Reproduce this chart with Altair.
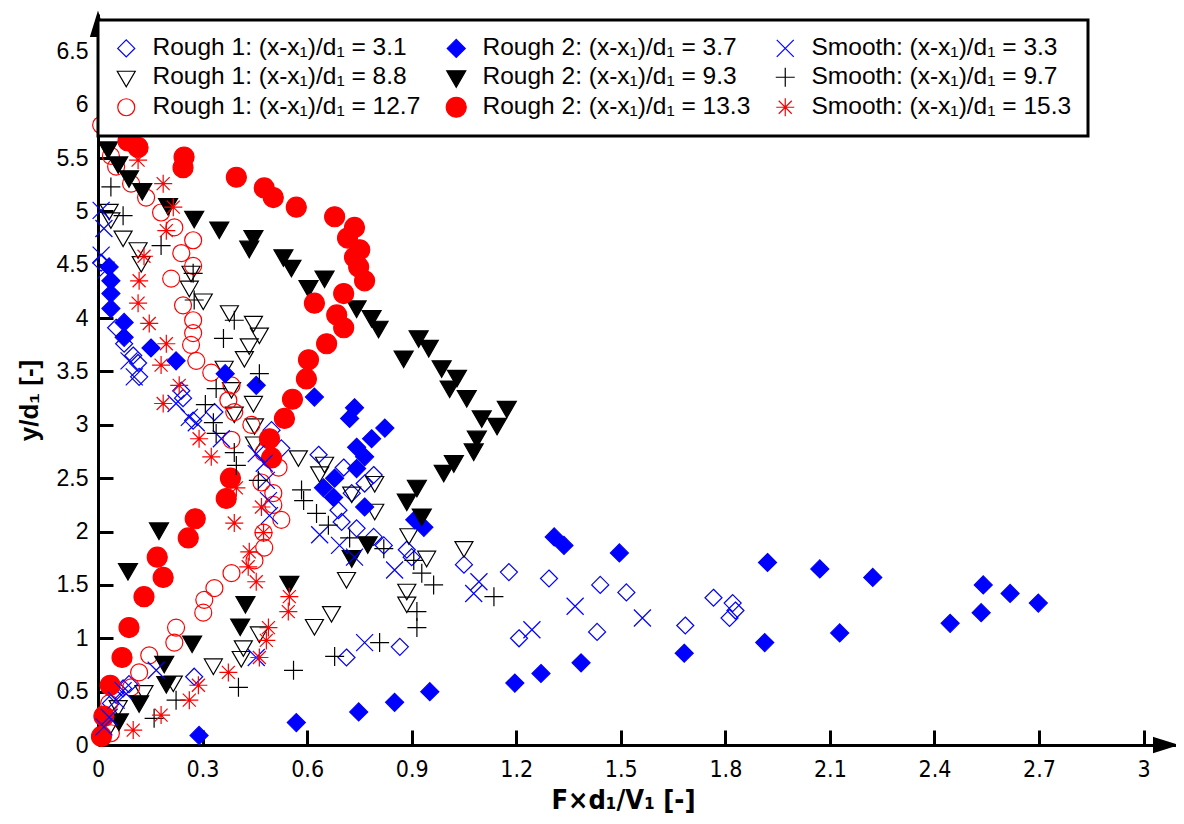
import altair as alt
import pandas as pd

# ---------------- data ----------------
series = [
    "Rough 1: (x-x₁)/d₁ = 3.1",
    "Rough 1: (x-x₁)/d₁ = 8.8",
    "Rough 1: (x-x₁)/d₁ = 12.7",
    "Rough 2: (x-x₁)/d₁ = 3.7",
    "Rough 2: (x-x₁)/d₁ = 9.3",
    "Rough 2: (x-x₁)/d₁ = 13.3",
    "Smooth: (x-x₁)/d₁ = 3.3",
    "Smooth: (x-x₁)/d₁ = 9.7",
    "Smooth: (x-x₁)/d₁ = 15.3",
]

r1_31_x = [0.023, 0.037, 0.052, 0.072, 0.089, 0.276, 0.713, 0.866, 1.208, 1.432, 1.685, 1.812, 1.829, 1.821,
           1.766, 1.516, 1.441, 1.294, 1.179, 1.050, 0.900, 0.886, 0.820, 0.791, 0.742, 0.699, 0.690, 0.728,
           0.765, 0.791, 0.705, 0.633, 0.526, 0.498, 0.334, 0.273, 0.244, 0.239, 0.118, 0.115, 0.101, 0.075,
           0.052, 0.009]
r1_31_y = [0.28, 0.39, 0.47, 0.53, 0.57, 0.64, 0.82, 0.92, 1.00, 1.06, 1.12, 1.19, 1.26, 1.33,
           1.38, 1.43, 1.50, 1.56, 1.62, 1.69, 1.76, 1.83, 1.87, 1.95, 2.03, 2.09, 2.20, 2.36,
           2.45, 2.53, 2.60, 2.72, 2.78, 2.95, 3.12, 3.04, 3.25, 3.32, 3.45, 3.58, 3.65, 3.76,
           3.91, 4.52]

r1_88_x = [0.032, 0.058, 0.132, 0.216, 0.331, 0.411, 0.417, 0.463, 0.621, 0.670, 0.713, 0.886, 0.886, 0.943,
           1.050, 0.892, 0.794, 0.728, 0.794, 0.636, 0.650, 0.575, 0.449, 0.449, 0.391, 0.446, 0.383, 0.362,
           0.420, 0.434, 0.463, 0.446, 0.377, 0.302, 0.262, 0.267, 0.124, 0.115, 0.072, 0.037, 0.032]
r1_88_y = [0.17, 0.36, 0.50, 0.59, 0.75, 0.82, 0.92, 1.05, 1.12, 1.24, 1.56, 1.33, 1.45, 1.76,
           1.85, 1.97, 2.20, 2.36, 2.46, 2.55, 2.64, 2.70, 2.83, 3.00, 3.11, 3.21, 3.34, 3.54,
           3.63, 3.75, 3.85, 3.96, 4.06, 4.17, 4.29, 4.43, 4.52, 4.65, 4.76, 4.93, 5.01]

r1_127_x = [0.037, 0.032, 0.095, 0.118, 0.147, 0.219, 0.224, 0.302, 0.305, 0.334, 0.383, 0.449, 0.477, 0.475,
            0.526, 0.503, 0.503, 0.469, 0.518, 0.475, 0.383, 0.440, 0.391, 0.374, 0.383, 0.325, 0.282, 0.267,
            0.273, 0.273, 0.244, 0.210, 0.273, 0.239, 0.273, 0.219, 0.181, 0.138, 0.095, 0.052, 0.037, 0.009]
r1_127_y = [0.11, 0.39, 0.54, 0.68, 0.84, 0.96, 1.10, 1.24, 1.36, 1.47, 1.61, 1.73, 1.85, 1.99,
            2.11, 2.25, 2.36, 2.46, 2.60, 2.74, 2.86, 3.00, 3.12, 3.23, 3.37, 3.49, 3.60, 3.75,
            3.86, 3.98, 4.12, 4.37, 4.49, 4.61, 4.73, 4.85, 4.99, 5.13, 5.26, 5.42, 5.52, 5.81]

r2_37_x = [0.290, 0.569, 0.748, 0.851, 0.952, 1.196, 1.271, 1.386, 1.682, 1.913, 2.128, 2.445, 2.534, 2.698,
           2.617, 2.540, 2.223, 2.071, 1.921, 1.496, 1.337, 1.309, 0.935, 0.909, 0.765, 0.676, 0.647, 0.679,
           0.742, 0.765, 0.742, 0.785, 0.823, 0.722, 0.736, 0.621, 0.454, 0.365, 0.224, 0.152, 0.075, 0.075,
           0.037, 0.037, 0.037, 0.032]
r2_37_y = [0.09, 0.21, 0.31, 0.40, 0.50, 0.58, 0.67, 0.77, 0.86, 0.96, 1.05, 1.14, 1.24, 1.33,
           1.42, 1.50, 1.57, 1.65, 1.71, 1.80, 1.87, 1.95, 2.04, 2.11, 2.23, 2.32, 2.41, 2.50,
           2.59, 2.70, 2.79, 2.87, 2.97, 3.06, 3.16, 3.26, 3.37, 3.48, 3.60, 3.72, 3.82, 3.96,
           4.09, 4.23, 4.35, 4.48]

r2_93_x = [0.060, 0.118, 0.196, 0.190, 0.270, 0.408, 0.423, 0.549, 0.086, 0.175, 0.728, 0.774, 0.929, 0.886,
           0.915, 0.992, 1.021, 1.078, 1.087, 1.145, 1.101, 1.173, 1.058, 1.009, 1.030, 0.986, 0.877, 0.949,
           0.920, 0.805, 0.785, 0.742, 0.650, 0.604, 0.555, 0.532, 0.434, 0.446, 0.348, 0.276, 0.201, 0.127,
           0.089, 0.058, 0.029]
r2_93_y = [0.23, 0.40, 0.58, 0.77, 0.96, 1.12, 1.33, 1.52, 1.64, 2.02, 1.76, 1.89, 2.15, 2.29,
           2.42, 2.56, 2.65, 2.76, 2.88, 3.00, 3.07, 3.16, 3.26, 3.35, 3.45, 3.54, 3.63, 3.73,
           3.82, 3.91, 4.01, 4.10, 4.38, 4.29, 4.48, 4.58, 4.66, 4.76, 4.84, 4.94, 5.06, 5.20,
           5.32, 5.45, 5.59]

r2_133_x = [0.010, 0.017, 0.035, 0.069, 0.089, 0.132, 0.187, 0.170, 0.259, 0.279, 0.368, 0.380, 0.498, 0.492,
            0.535, 0.558, 0.598, 0.604, 0.656, 0.705, 0.685, 0.621, 0.705, 0.765, 0.748, 0.736, 0.751, 0.716,
            0.736, 0.679, 0.569, 0.503, 0.477, 0.397, 0.244, 0.247, 0.115, 0.086]
r2_133_y = [0.08, 0.27, 0.56, 0.82, 1.10, 1.39, 1.57, 1.76, 1.94, 2.12, 2.31, 2.50, 2.69, 2.87,
            3.06, 3.24, 3.43, 3.61, 3.76, 3.91, 4.03, 4.14, 4.23, 4.35, 4.48, 4.57, 4.64, 4.75,
            4.85, 4.95, 5.04, 5.13, 5.22, 5.32, 5.41, 5.51, 5.60, 5.66]

s_33_x = [0.017, 0.032, 0.052, 0.072, 0.167, 0.454, 0.765, 1.245, 1.562, 1.369, 1.078, 1.093, 0.851, 0.736,
          0.693, 0.636, 0.492, 0.489, 0.483, 0.477, 0.454, 0.354, 0.282, 0.262, 0.224, 0.104, 0.089, 0.023,
          0.009, 0.017, 0.009]
s_33_y = [0.17, 0.26, 0.42, 0.51, 0.70, 0.82, 0.96, 1.08, 1.19, 1.30, 1.42, 1.53, 1.64, 1.76,
          1.87, 1.97, 2.15, 2.29, 2.48, 2.64, 2.73, 2.87, 3.02, 3.07, 3.20, 3.45, 3.60, 4.45,
          4.59, 4.84, 5.01]

s_97_x = [0.161, 0.224, 0.403, 0.561, 0.679, 0.808, 0.915, 0.915, 1.136, 0.963, 0.929, 0.906, 0.820, 0.722,
          0.661, 0.627, 0.590, 0.584, 0.460, 0.397, 0.391, 0.339, 0.331, 0.308, 0.339, 0.463, 0.360, 0.391,
          0.276, 0.273, 0.181, 0.072, 0.037]
s_97_y = [0.25, 0.42, 0.54, 0.70, 0.83, 0.96, 1.10, 1.25, 1.39, 1.50, 1.61, 1.73, 1.84, 1.94,
          2.06, 2.17, 2.29, 2.39, 2.48, 2.62, 2.74, 2.92, 3.02, 3.19, 3.34, 3.48, 3.81, 3.98,
          4.17, 4.42, 4.68, 4.96, 5.23]

s_153_x = [0.101, 0.181, 0.262, 0.288, 0.374, 0.463, 0.483, 0.489, 0.546, 0.549, 0.454, 0.431, 0.434, 0.475,
           0.391, 0.469, 0.397, 0.325, 0.290, 0.187, 0.233, 0.181, 0.196, 0.147, 0.115, 0.118, 0.132, 0.196,
           0.216, 0.187, 0.115]
s_153_y = [0.14, 0.28, 0.42, 0.56, 0.68, 0.82, 0.98, 1.10, 1.25, 1.39, 1.53, 1.67, 1.81, 1.99,
           2.08, 2.23, 2.41, 2.70, 2.87, 3.20, 3.37, 3.56, 3.76, 3.95, 4.14, 4.35, 4.58, 4.82,
           5.04, 5.26, 5.48]

x_labels = [0, 0.3, 0.6, 0.9, 1.2, 1.5, 1.8, 2.1, 2.4, 2.7, 3]
x_ticks = [0.3, 0.6, 0.9, 1.2, 1.5, 1.8, 2.1, 2.4, 2.7, 3]
y_labels = [0, 0.5, 1, 1.5, 2, 2.5, 3, 3.5, 4, 4.5, 5, 5.5, 6, 6.5]
y_ticks = [0.5, 1, 1.5, 2, 2.5, 3, 3.5, 4, 4.5, 5, 5.5, 6, 6.5]

# ---------------- build table ----------------
data_by_series = {
    series[0]: (r1_31_x, r1_31_y),
    series[1]: (r1_88_x, r1_88_y),
    series[2]: (r1_127_x, r1_127_y),
    series[3]: (r2_37_x, r2_37_y),
    series[4]: (r2_93_x, r2_93_y),
    series[5]: (r2_133_x, r2_133_y),
    series[6]: (s_33_x, s_33_y),
    series[7]: (s_97_x, s_97_y),
    series[8]: (s_153_x, s_153_y),
}
rows = []
for order, (name, (xs, ys)) in enumerate(data_by_series.items()):
    for i, (xv, yv) in enumerate(zip(xs, ys)):
        rows.append({"series": name, "x": xv, "y": yv, "ord": order * 100 + i})
df = pd.DataFrame(rows)

# ---------------- styles ----------------
BLUE, BLACK, RED = "#0000ff", "#000000", "#ff0000"
stroke_range = [BLUE, BLACK, RED, BLUE, BLACK, RED, BLUE, BLACK, RED]
fill_range = ["transparent", "transparent", "transparent", BLUE, BLACK, RED,
              "transparent", "transparent", "transparent"]
shape_range = [
    "M0,-0.85L0.85,0L0,0.85L-0.85,0Z",
    "M-0.9,-0.6L0.9,-0.6L0,0.95Z",
    "M0.85,0A0.85,0.85,0,1,1,-0.85,0A0.85,0.85,0,1,1,0.85,0Z",
    "M0,-0.9L0.9,0L0,0.9L-0.9,0Z",
    "M-0.95,-0.65L0.95,-0.65L0,1Z",
    "M1,0A1,1,0,1,1,-1,0A1,1,0,1,1,1,0Z",
    "M-0.85,-0.85L0.85,0.85M-0.85,0.85L0.85,-0.85",
    "M-0.95,0L0.95,0M0,-0.95L0,0.95",
    "M-0.9,0L0.9,0M0,-0.9L0,0.9M-0.65,-0.65L0.65,0.65M-0.65,0.65L0.65,-0.65",
]

W, H = 1078, 731
XMAX, YMAX = 3.093, 6.85
FONT = "Liberation Sans, Arial, Helvetica, sans-serif"
NARROW = "Liberation Sans Narrow, Arial Narrow, DejaVu Sans Condensed, sans-serif"

xscale = alt.Scale(domain=[0, XMAX], nice=False, zero=False)
yscale = alt.Scale(domain=[0, YMAX], nice=False, zero=False)

legend = alt.Legend(
    title=None, orient="none", legendX=0, legendY=6, columns=3, direction="vertical",
    symbolSize=400, symbolStrokeWidth=1.2, labelFontSize=24.5, labelFont=FONT,
    labelLimit=500, labelOffset=14, columnPadding=22, rowPadding=4, padding=16,
    strokeColor="black", fillColor="white", zindex=2,
)

main_x_axis = alt.Axis(values=x_labels, orient="bottom", format="~g", ticks=False, tickSize=0, grid=False,
                       domainColor="black", domainWidth=3, labelFont=NARROW, labelFontSize=23,
                       labelColor="black", labelPadding=13, labelFlush=False,
                       title="F×d₁/V₁ [-]", titleFont=NARROW, titleFontSize=27, titleFontWeight="bold",
                       titleColor="black", titlePadding=6, titleX=525)
main_y_axis = alt.Axis(values=y_labels, orient="left", format="~g", ticks=False, tickSize=0, grid=False,
                       domainColor="black", domainWidth=3, labelFont=FONT, labelFontSize=23,
                       labelColor="black", labelPadding=10, labelFlush=False,
                       title="y/d₁ [-]", titleFont=FONT, titleFontSize=26, titleFontWeight="bold",
                       titleColor="black", titlePadding=14, titleY=386)

tick_x_axis = alt.Axis(values=x_ticks, orient="bottom", offset=-15, tickSize=15, tickWidth=3,
                       tickColor="black", labels=False, domain=False, grid=False, title=None)
tick_y_axis = alt.Axis(values=y_ticks, orient="left", offset=-15, tickSize=15, tickWidth=3,
                       tickColor="black", labels=False, domain=False, grid=False, title=None)

ticks_layer = alt.Chart(df).mark_point(opacity=0).encode(
    x=alt.X("x:Q", scale=xscale, axis=tick_x_axis),
    y=alt.Y("y:Q", scale=yscale, axis=tick_y_axis),
)

points = alt.Chart(df).mark_point(size=400, opacity=1, strokeWidth=1.2, filled=False).encode(
    x=alt.X("x:Q", scale=xscale, axis=main_x_axis),
    y=alt.Y("y:Q", scale=yscale, axis=main_y_axis),
    stroke=alt.Stroke("series:N", scale=alt.Scale(domain=series, range=stroke_range), legend=legend),
    fill=alt.Fill("series:N", scale=alt.Scale(domain=series, range=fill_range), legend=legend),
    shape=alt.Shape("series:N", scale=alt.Scale(domain=series, range=shape_range), legend=legend),
    order=alt.Order("ord:Q"),
)

arrow_df = pd.DataFrame({"k": [0]})
arrow_x = alt.Chart(arrow_df).mark_point(shape="M-1,-0.62L1,0L-1,0.62Z", filled=True, fill="black",
                                         stroke="black", size=484, opacity=1).encode(
    x=alt.value(W - 11), y=alt.value(H))
arrow_y = alt.Chart(arrow_df).mark_point(shape="M-0.62,1L0,-1L0.62,1Z", filled=True, fill="black",
                                         stroke="black", size=484, opacity=1).encode(
    x=alt.value(0), y=alt.value(11))

chart = alt.layer(ticks_layer, points, arrow_x, arrow_y).resolve_axis(
    x="independent", y="independent"
).properties(
    width=W, height=H,
    autosize=alt.AutoSizeParams(type="none"),
    padding={"left": 90, "top": 6, "right": 0, "bottom": 72},
    background="white",
).configure_view(stroke="transparent").configure_legend(strokeWidth=3)

chart.save("out.html", embed_options={"renderer": "svg", "actions": False})
